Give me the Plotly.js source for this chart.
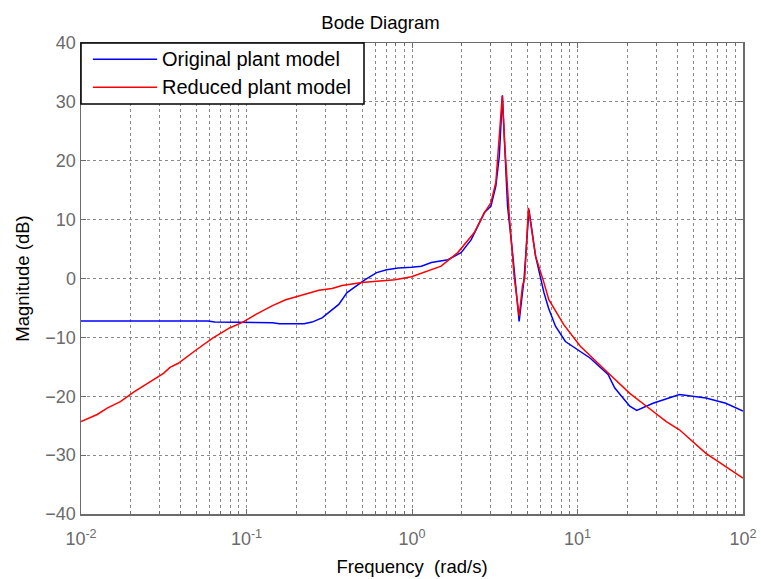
<!DOCTYPE html>
<html>
<head>
<meta charset="utf-8">
<script src="https://cdn.plot.ly/plotly-3.0.1.min.js"></script>
<style>html,body{margin:0;padding:0;background:#fff;}#chart{width:761px;height:579px;}</style>
</head>
<body>
<div id="chart"></div>
<script>
// Frequency (rad/s) and magnitude (dB)
const origFreq = [0.01, 0.0586, 0.0643, 0.0951, 0.1435, 0.158, 0.223, 0.249, 0.286, 0.361, 0.405, 0.521, 0.612, 0.703, 0.826, 0.993, 1.14, 1.31, 1.65, 1.98, 2.28, 2.55, 2.74, 3.0, 3.21, 3.37, 3.52, 3.61, 3.78, 4.05, 4.44, 4.75, 5.09, 5.58, 6.27, 6.68, 7.36, 8.45, 10.4, 11.9, 15.3, 16.8, 20.7, 22.8, 28.6, 41.3, 59.7, 78.7, 100];
const origMag  = [-7.2, -7.2, -7.4, -7.5, -7.5, -7.7, -7.7, -7.4, -6.7, -4.4, -2.4, -0.2, 1.0, 1.5, 1.8, 1.9, 2.1, 2.7, 3.2, 4.4, 6.6, 9.4, 11.2, 12.3, 15.7, 20.8, 31.1, 24.0, 12.3, 4.4, -7.3, -0.2, 11.7, 3.8, -2.4, -5.0, -8.1, -10.7, -12.4, -13.5, -16.3, -18.6, -21.7, -22.4, -21.2, -19.7, -20.3, -21.2, -22.5];

const redFreq = [0.01, 0.01253, 0.01439, 0.0173, 0.0208, 0.025, 0.0315, 0.0345, 0.0387, 0.0498, 0.0628, 0.079, 0.0951, 0.114, 0.1435, 0.1726, 0.208, 0.274, 0.329, 0.378, 0.498, 0.656, 0.789, 0.993, 1.14, 1.50, 1.89, 2.38, 2.74, 3.0, 3.21, 3.41, 3.51, 3.64, 3.86, 4.14, 4.44, 4.65, 4.80, 5.05, 5.58, 6.27, 6.71, 8.24, 10.4, 15.0, 20.7, 26.1, 34.4, 41.3, 59.7, 100];
const redMag  = [-24.3, -23.1, -22.0, -20.9, -19.3, -17.9, -16.1, -15.1, -14.4, -12.1, -10.1, -8.4, -7.4, -6.1, -4.6, -3.6, -3.0, -2.0, -1.7, -1.2, -0.7, -0.4, -0.2, 0.3, 0.9, 2.1, 4.4, 7.8, 11.2, 12.9, 16.3, 25.4, 31.0, 22.5, 11.2, 0.4, -6.4, -1.3, 0.1, 12.0, 3.8, -0.7, -3.6, -7.8, -11.5, -15.8, -19.5, -21.7, -24.3, -25.7, -29.7, -33.9];

const seriesNames = ['Original plant model', 'Reduced plant model'];
const seriesColors = ['#0000ff', '#ff0000'];

const xTickVals = [0.01, 0.1, 1, 10, 100];
const xTickText = ['10<sup>-2</sup>', '10<sup>-1</sup>', '10<sup>0</sup>', '10<sup>1</sup>', '10<sup>2</sup>'];
const yTickVals = [-40, -30, -20, -10, 0, 10, 20, 30, 40];

const FONT = 'Liberation Sans, Arial, sans-serif';
const axisGray = '#6b6b6b';
const gridGray = '#8a8a8a';

const traces = [
  {x: origFreq, y: origMag, type: 'scatter', mode: 'lines', name: seriesNames[0], line: {color: seriesColors[0], width: 1.5}, showlegend: false},
  {x: redFreq, y: redMag, type: 'scatter', mode: 'lines', name: seriesNames[1], line: {color: seriesColors[1], width: 1.5}, showlegend: false}
];

// Custom legend (paper coordinates)
const shapes = [
  {type: 'rect', xref: 'paper', yref: 'paper', x0: 0, x1: 0.4275, y0: 0.8705, y1: 1.0, line: {color: '#000', width: 1.5}, fillcolor: '#fff', layer: 'above'},
  {type: 'line', xref: 'paper', yref: 'paper', x0: 0.018, x1: 0.115, y0: 0.9653, y1: 0.9653, line: {color: seriesColors[0], width: 1.5}, layer: 'above'},
  {type: 'line', xref: 'paper', yref: 'paper', x0: 0.018, x1: 0.115, y0: 0.9058, y1: 0.9058, line: {color: seriesColors[1], width: 1.5}, layer: 'above'}
];
const annotations = [
  {xref: 'paper', yref: 'paper', x: 0.12, y: 0.9653, xanchor: 'left', yanchor: 'middle', text: seriesNames[0], showarrow: false, font: {family: FONT, size: 20, color: '#000'}},
  {xref: 'paper', yref: 'paper', x: 0.12, y: 0.9058, xanchor: 'left', yanchor: 'middle', text: seriesNames[1], showarrow: false, font: {family: FONT, size: 20, color: '#000'}}
];

const layout = {
  width: 761, height: 579,
  margin: {l: 81, r: 18, t: 43, b: 65},
  paper_bgcolor: '#fff', plot_bgcolor: '#fff',
  font: {family: FONT, size: 18, color: '#000'},
  title: {text: 'Bode Diagram', font: {family: FONT, size: 18.5, color: '#000'}, x: 0.5, xanchor: 'center', y: 0.972, yanchor: 'top'},
  xaxis: {
    type: 'log', range: [-2, 2],
    tickvals: xTickVals, ticktext: xTickText,
    tickfont: {family: FONT, size: 18, color: axisGray},
    ticks: 'inside', ticklen: 5, tickcolor: axisGray,
    ticklabelstandoff: 8,
    showline: true, linecolor: axisGray, linewidth: 1.5, mirror: 'ticks',
    showgrid: true, gridcolor: gridGray, griddash: 'dot', gridwidth: 1,
    minor: {dtick: 'D1', ticks: 'inside', ticklen: 3, tickcolor: axisGray, showgrid: true, gridcolor: gridGray, griddash: 'dot', gridwidth: 1},
    zeroline: false,
    title: {text: 'Frequency  (rad/s)', font: {family: FONT, size: 18.5, color: '#000'}, standoff: 12}
  },
  yaxis: {
    range: [-40, 40],
    tickvals: yTickVals,
    tickfont: {family: FONT, size: 18, color: axisGray},
    ticks: 'inside', ticklen: 5, tickcolor: axisGray,
    showline: true, linecolor: axisGray, linewidth: 1.5, mirror: 'ticks',
    showgrid: true, gridcolor: gridGray, griddash: 'dot', gridwidth: 1,
    zeroline: false,
    title: {text: 'Magnitude (dB)', font: {family: FONT, size: 18.5, color: '#000'}, standoff: 11}
  },
  shapes: shapes,
  annotations: annotations,
  showlegend: false
};

Plotly.newPlot('chart', traces, layout, {displayModeBar: false, staticPlot: true});
</script>
</body>
</html>
